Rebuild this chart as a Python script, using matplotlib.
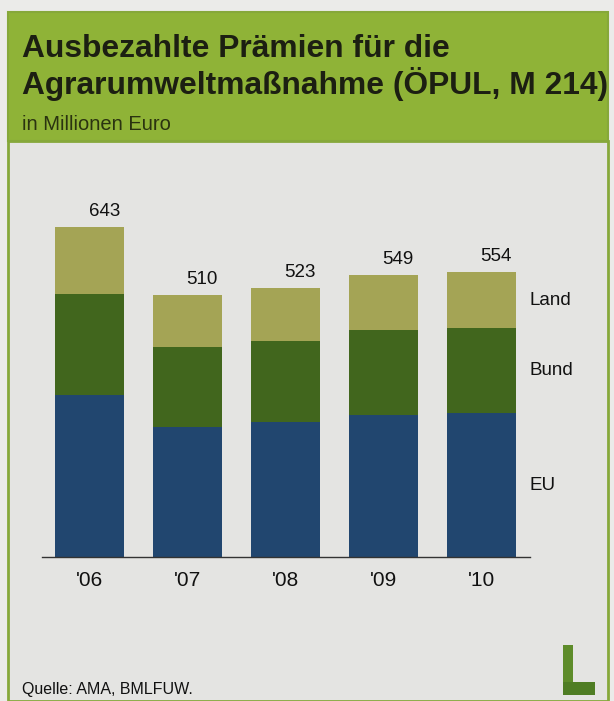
import numpy as np
import matplotlib.pyplot as plt
from matplotlib.patches import Rectangle

plt.rcParams['font.family'] = ['Liberation Sans', 'DejaVu Sans']

# Daten (Mio. Euro)
jahre = ["'06", "'07", "'08", "'09", "'10"]
eu = np.array([315, 254, 263, 276, 280])
bund = np.array([197, 155, 158, 166, 166])
land = np.array([131, 101, 102, 107, 108])
summe = [643, 510, 523, 549, 554]
segmente = ['EU', 'Bund', 'Land']

c_eu = '#21466f'
c_bund = '#41661d'
c_land = '#a4a455'
c_head = '#8fb337'
c_bg = '#e4e4e2'

W, H = 614, 701
fig = plt.figure(figsize=(W/100, H/100), dpi=100)
fig.patch.set_facecolor('#ebebe9')

# Rahmen, Kopfzeile
fig.patches.append(Rectangle((8/W, 0), 600/W, (H-141)/H, transform=fig.transFigure,
                             facecolor=c_bg, edgecolor='#86a83a', linewidth=2, zorder=-3))
fig.patches.append(Rectangle((8/W, (H-141)/H), 600/W, 129/H, transform=fig.transFigure,
                             facecolor=c_head, edgecolor='#86a83a', linewidth=1.5, zorder=-3))

fig.text(22/W, 1-57/H, 'Ausbezahlte Prämien für die', fontsize=22.9, fontweight='bold',
         color='#1c1f12', va='baseline')
fig.text(22/W, 1-94/H, 'Agrarumweltmaßnahme (ÖPUL, M 214)', fontsize=22.9, fontweight='bold',
         color='#1c1f12', va='baseline')
fig.text(22/W, 1-130/H, 'in Millionen Euro', fontsize=14.5, color='#2a3310', va='baseline')

ax = fig.add_axes([42/W, 144/H, 488/W, 357/H], zorder=2)
ax.set_facecolor('none')
x = np.arange(len(jahre))
bw = 0.706
ax.bar(x, eu, bw, color=c_eu)
ax.bar(x, bund, bw, bottom=eu, color=c_bund)
ax.bar(x, land, bw, bottom=eu+bund, color=c_land)
ax.set_xlim(-0.49, 4.5)
ax.set_ylim(0, 695)

for i, s in enumerate(summe):
    ax.text(i+0.15, s+14, str(s), ha='center', va='bottom', fontsize=13.5, color='#111111')

# Segmentbeschriftung neben dem letzten Balken
mitten = [eu[-1]/2, eu[-1]+bund[-1]/2, eu[-1]+bund[-1]+land[-1]/2]
for name, ym in zip(segmente, mitten):
    ax.text(4.5, ym, name, ha='left', va='center', fontsize=13.5, color='#111111', clip_on=False)

for sp in ['top', 'right', 'left']:
    ax.spines[sp].set_visible(False)
ax.spines['bottom'].set_color('#333333')
ax.spines['bottom'].set_linewidth(1)
ax.set_yticks([])
ax.set_xticks(x)
ax.set_xticklabels(jahre, fontsize=15, color='#111111')
ax.tick_params(axis='x', length=0, pad=10)

fig.text(22/W, 1-694/H, 'Quelle: AMA, BMLFUW.', fontsize=11.5, color='#111111', va='baseline')

# Logo "L"
fig.patches.append(Rectangle((563/W, 1-695/H), 10/W, 50/H, transform=fig.transFigure,
                             facecolor='#5e8c2a', edgecolor='none'))
fig.patches.append(Rectangle((563/W, 1-695/H), 32/W, 13/H, transform=fig.transFigure,
                             facecolor='#4f7d24', edgecolor='none'))

fig.savefig('out.png', dpi=100, facecolor=fig.get_facecolor())
